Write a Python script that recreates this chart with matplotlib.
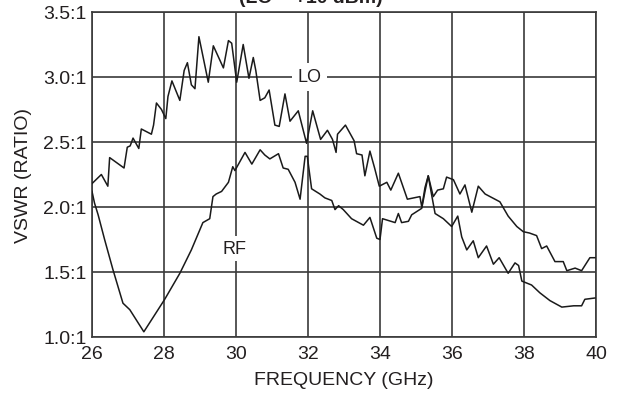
import matplotlib
matplotlib.use("Agg")
import matplotlib.pyplot as plt

plt.rcParams['font.family'] = ['Liberation Sans', 'DejaVu Sans']

# LO port VSWR
lo_freq = [26.0, 26.26, 26.44, 26.49, 26.89, 26.98, 27.06, 27.14, 27.30, 27.37, 27.65, 27.71,
           27.79, 27.93, 28.05, 28.11, 28.22, 28.44, 28.56, 28.65, 28.76, 28.86, 28.97, 29.23,
           29.37, 29.65, 29.79, 29.88, 30.02, 30.20, 30.36, 30.48, 30.55, 30.67, 30.80, 30.92,
           31.08, 31.20, 31.36, 31.50, 31.73, 31.96, 32.13, 32.35, 32.54, 32.68, 32.78, 32.82,
           33.04, 33.28, 33.35, 33.50, 33.58, 33.72, 33.85, 33.98, 34.19, 34.30, 34.51, 34.76,
           35.11, 35.16, 35.25, 35.34, 35.48, 35.60, 35.76, 35.85, 36.04, 36.22, 36.36, 36.55,
           36.73, 36.92, 37.33, 37.56, 37.80, 37.98, 38.15, 38.35, 38.49, 38.63, 38.86, 39.09,
           39.19, 39.42, 39.60, 39.83, 39.97]
lo_vswr = [2.18, 2.25, 2.16, 2.38, 2.30, 2.46, 2.47, 2.53, 2.45, 2.60, 2.56, 2.63,
           2.80, 2.75, 2.68, 2.85, 2.97, 2.82, 3.05, 3.11, 2.94, 2.91, 3.31, 2.96,
           3.24, 3.07, 3.28, 3.26, 2.96, 3.25, 2.99, 3.15, 3.05, 2.82, 2.84, 2.90,
           2.63, 2.62, 2.87, 2.66, 2.74, 2.49, 2.74, 2.52, 2.59, 2.52, 2.42, 2.56,
           2.63, 2.51, 2.41, 2.40, 2.24, 2.43, 2.30, 2.16, 2.19, 2.13, 2.26, 2.06,
           2.08, 2.00, 2.15, 2.24, 2.08, 2.13, 2.14, 2.23, 2.21, 2.10, 2.17, 1.96,
           2.16, 2.10, 2.04, 1.93, 1.85, 1.81, 1.80, 1.78, 1.68, 1.70, 1.58, 1.58,
           1.51, 1.53, 1.51, 1.61, 1.61]

# RF port VSWR
rf_freq = [26.0, 26.07, 26.17, 26.35, 26.58, 26.86, 27.05, 27.44, 28.02, 28.44, 28.76, 29.08,
           29.27, 29.36, 29.45, 29.60, 29.79, 29.91, 29.97, 30.11, 30.25, 30.44, 30.67, 30.80,
           30.94, 31.18, 31.31, 31.45, 31.64, 31.78, 31.92, 31.98, 32.10, 32.33, 32.47, 32.66,
           32.75, 32.85, 32.98, 33.21, 33.54, 33.72, 33.91, 34.00, 34.07, 34.42, 34.51, 34.60,
           34.79, 34.88, 35.16, 35.25, 35.34, 35.43, 35.53, 35.76, 35.99, 36.16, 36.27, 36.41,
           36.59, 36.73, 36.96, 37.15, 37.31, 37.56, 37.75, 37.85, 37.94, 38.21, 38.44, 38.72,
           39.05, 39.38, 39.60, 39.69, 39.97]
rf_vswr = [2.12, 2.03, 1.94, 1.75, 1.52, 1.26, 1.21, 1.04, 1.29, 1.49, 1.67, 1.88,
           1.91, 2.08, 2.10, 2.12, 2.19, 2.31, 2.28, 2.35, 2.42, 2.33, 2.44, 2.40,
           2.37, 2.41, 2.30, 2.29, 2.19, 2.06, 2.39, 2.39, 2.14, 2.10, 2.07, 2.05,
           1.98, 2.01, 1.98, 1.91, 1.86, 1.92, 1.76, 1.75, 1.91, 1.88, 1.95, 1.88,
           1.89, 1.94, 1.99, 2.12, 2.24, 2.10, 1.95, 1.91, 1.85, 1.93, 1.77, 1.67,
           1.74, 1.61, 1.70, 1.56, 1.61, 1.49, 1.57, 1.55, 1.43, 1.40, 1.34, 1.28,
           1.23, 1.24, 1.24, 1.29, 1.30]

x_ticks = [26, 28, 30, 32, 34, 36, 38, 40]
y_ticks = [1.0, 1.5, 2.0, 2.5, 3.0, 3.5]
y_tick_labels = ['1.0:1', '1.5:1', '2.0:1', '2.5:1', '3.0:1', '3.5:1']

fig = plt.figure(figsize=(6.18, 4.02), dpi=100)
ax = fig.add_axes([92 / 618, 1 - 338 / 402, 504 / 618, 325 / 402])

ax.plot(lo_freq, lo_vswr, color='#1a1a1a', lw=1.1, zorder=3)
ax.plot(rf_freq, rf_vswr, color='#1a1a1a', lw=1.1, zorder=3)

ax.set_xlim(26, 40)
ax.set_ylim(1.0, 3.5)
ax.set_xticks(x_ticks)
ax.set_yticks(y_ticks)
ax.set_yticklabels(y_tick_labels)
ax.tick_params(axis='x', length=0, labelsize=14, colors='#231f20', pad=6)
ax.tick_params(axis='y', length=0, labelsize=14, colors='#231f20', pad=4)
ax.grid(True, color='#3a3a3a', lw=1.2, zorder=1)
for s in ax.spines.values():
    s.set_color('#3a3a3a')
    s.set_linewidth(1.2)

ax.text(32.05, 3.0, 'LO', fontsize=13, color='#231f20', ha='center', va='center', zorder=4,
        bbox=dict(facecolor='white', edgecolor='none', pad=4))
ax.text(29.95, 1.68, 'RF', fontsize=13, color='#231f20', ha='center', va='center', zorder=4,
        bbox=dict(facecolor='white', edgecolor='none', pad=3))

ax.set_xlabel('FREQUENCY (GHz)', fontsize=14, color='#231f20', labelpad=6)
ax.set_ylabel('VSWR (RATIO)', fontsize=14, color='#231f20', labelpad=8)

# title sits mostly above the figure edge, as in the reference
fig.text(311 / 618, 1 - 7 / 402, '(LO = +10 dBm)', fontsize=14, fontweight='bold',
         color='#231f20', ha='center', va='bottom')

fig.savefig('out.png', dpi=100)
